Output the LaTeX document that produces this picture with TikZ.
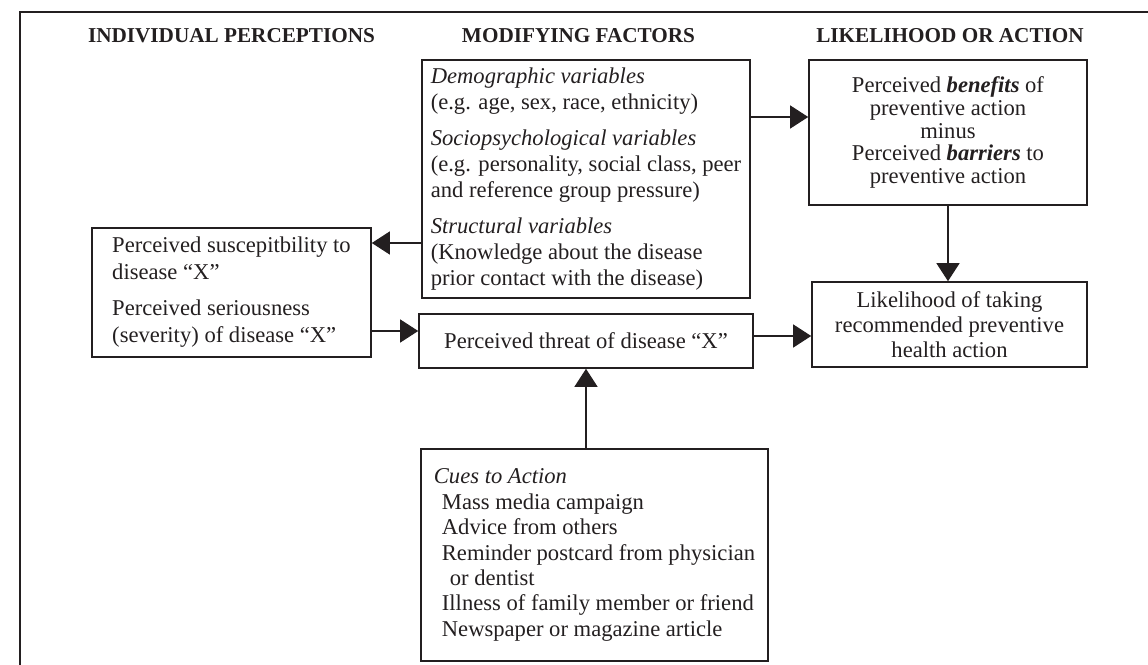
\documentclass[tikz,border=0pt]{standalone}
\usepackage{fontspec}
\setmainfont{Liberation Serif}
\usepackage{tikz}
\usetikzlibrary{arrows.meta,calc}
\definecolor{ink}{HTML}{231F20}

\begin{document}
\begin{tikzpicture}[x=0.5pt,y=-0.5pt,color=ink,
    font=\fontsize{11.3}{12.5}\selectfont,
    head/.style={font=\fontsize{10.6}{12}\selectfont\bfseries},
    box/.style={draw,line width=0.8pt,inner sep=2pt},
    arr/.style={line width=0.6pt,-{Triangle[length=9pt,width=11.5pt]}}]
  \useasboundingbox (0,0) rectangle (1148,665);
  \draw[line width=1pt] (20,665) -- (20,12) -- (1148,12);

  % column headings
  \node[head] (hdind) at (231.5,36) {INDIVIDUAL PERCEPTIONS};
  \node[head] (hdmod) at (578.5,36) {MODIFYING FACTORS};
  \node[head] (hdlike) at (950,36) {LIKELIHOOD OR ACTION};

  % boxes
  \node[box,align=left,minimum width=164pt,minimum height=119pt,
    font=\fontsize{11.3}{13}\selectfont] (mod) at (586,179) {%
    \textit{Demographic variables}\\
    (e.g. age, sex, race, ethnicity)\\[5pt]
    \textit{Sociopsychological variables}\\
    (e.g. personality, social class, peer\\
    and reference group pressure)\\[5pt]
    \textit{Structural variables}\\
    (Knowledge about the disease\\
    prior contact with the disease)};
  \node[box,align=center,minimum width=139pt,minimum height=72.5pt,
    font=\fontsize{11.3}{11.3}\selectfont] (benefit) at (948,132.5) {%
    Perceived \textbf{\textit{benefits}} of\\
    preventive action\\
    minus\\
    Perceived \textbf{\textit{barriers}} to\\
    preventive action};
  \node[box,align=left,minimum width=139.5pt,minimum height=64.5pt,
    font=\fontsize{11.3}{13.5}\selectfont] (susc) at (231.5,292.5) {%
    Perceived suscepitbility to\\
    disease “X”\\[4.5pt]
    Perceived seriousness\\
    (severity) of disease “X”};
  \node[box,minimum width=167pt,minimum height=27pt] (threat) at (586,341)
    {Perceived threat of disease “X”};
  \node[box,align=center,minimum width=137.5pt,minimum height=42.5pt] (likeli)
    at (949.5,324.5) {Likelihood of taking\\
    recommended preventive\\
    health action};
  \node[box,align=left,minimum width=173.5pt,minimum height=106pt,
    font=\fontsize{11.3}{12.7}\selectfont] (cues) at (594.5,555) {%
    \textit{Cues to Action}\\
    \hspace*{4pt}Mass media campaign\\
    \hspace*{4pt}Advice from others\\
    \hspace*{4pt}Reminder postcard from physician\\
    \hspace*{8pt}or dentist\\
    \hspace*{4pt}Illness of family member or friend\\
    \hspace*{4pt}Newspaper or magazine article};

  % arrows
  \draw[arr] (mod.east |- 0,117) -- (benefit.west |- 0,117);
  \draw[arr] (mod.west |- 0,243) -- (susc.east |- 0,243);
  \draw[arr] (susc.east |- 0,331) -- (threat.west |- 0,331);
  \draw[arr] (threat.east |- 0,336) -- (likeli.west |- 0,336);
  \draw[arr] (benefit.south) -- (benefit.south |- likeli.north);
  \draw[arr] (cues.north -| threat.south) -- (threat.south);
\end{tikzpicture}
\end{document}
